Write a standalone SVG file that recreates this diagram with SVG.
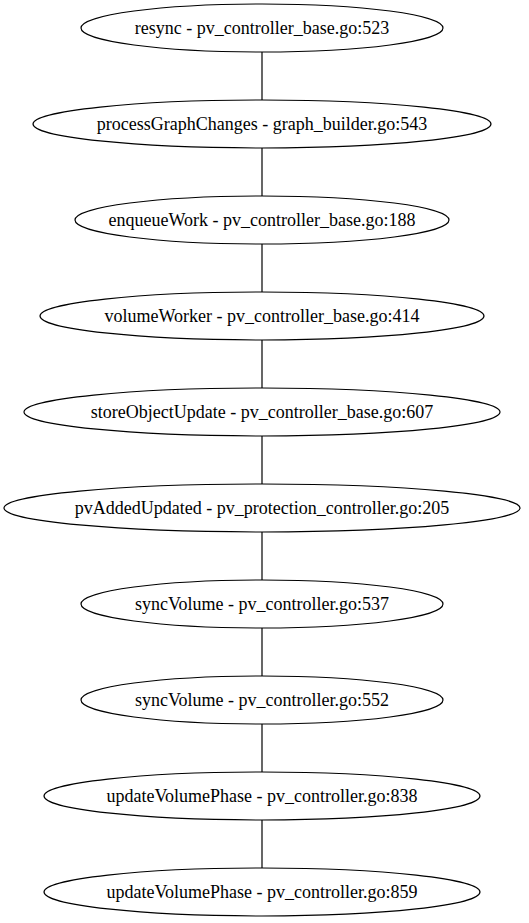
<svg xmlns="http://www.w3.org/2000/svg" width="529" height="923" viewBox="0 0 529 923">
<style>
.n ellipse{fill:none;stroke:#000;stroke-width:1.2}
.n text{font-family:"Liberation Serif","Times New Roman",serif;font-size:18px;text-anchor:middle;fill:#000}
.e line{stroke:#000;stroke-width:1.2}
</style>
<rect width="529" height="923" fill="#fff"/>
<g id="edges" class="e">
<line x1="262" y1="52" x2="262" y2="100"/>
<line x1="262" y1="148" x2="262" y2="196"/>
<line x1="262" y1="244" x2="262" y2="292"/>
<line x1="262" y1="340" x2="262" y2="388"/>
<line x1="262" y1="436" x2="262" y2="484"/>
<line x1="262" y1="532" x2="262" y2="580"/>
<line x1="262" y1="628" x2="262" y2="676"/>
<line x1="262" y1="724" x2="262" y2="772"/>
<line x1="262" y1="820" x2="262" y2="868"/>
</g>
<g id="n1" class="n"><ellipse cx="262" cy="28" rx="181" ry="24"/><text x="262" y="34">resync - pv_controller_base.go:523</text></g>
<g id="n2" class="n"><ellipse cx="262" cy="124" rx="229" ry="24"/><text x="262" y="130">processGraphChanges - graph_builder.go:543</text></g>
<g id="n3" class="n"><ellipse cx="262" cy="220" rx="187" ry="24"/><text x="262" y="226">enqueueWork - pv_controller_base.go:188</text></g>
<g id="n4" class="n"><ellipse cx="262" cy="316" rx="222" ry="24"/><text x="262" y="322">volumeWorker - pv_controller_base.go:414</text></g>
<g id="n5" class="n"><ellipse cx="262" cy="412" rx="238" ry="24"/><text x="262" y="418">storeObjectUpdate - pv_controller_base.go:607</text></g>
<g id="n6" class="n"><ellipse cx="262" cy="508" rx="258" ry="24"/><text x="262" y="514">pvAddedUpdated - pv_protection_controller.go:205</text></g>
<g id="n7" class="n"><ellipse cx="262" cy="604" rx="181" ry="24"/><text x="262" y="610">syncVolume - pv_controller.go:537</text></g>
<g id="n8" class="n"><ellipse cx="262" cy="700" rx="181" ry="24"/><text x="262" y="706">syncVolume - pv_controller.go:552</text></g>
<g id="n9" class="n"><ellipse cx="262" cy="796" rx="218" ry="24"/><text x="262" y="802">updateVolumePhase - pv_controller.go:838</text></g>
<g id="n10" class="n"><ellipse cx="262" cy="892" rx="218" ry="24"/><text x="262" y="898">updateVolumePhase - pv_controller.go:859</text></g>
</svg>
